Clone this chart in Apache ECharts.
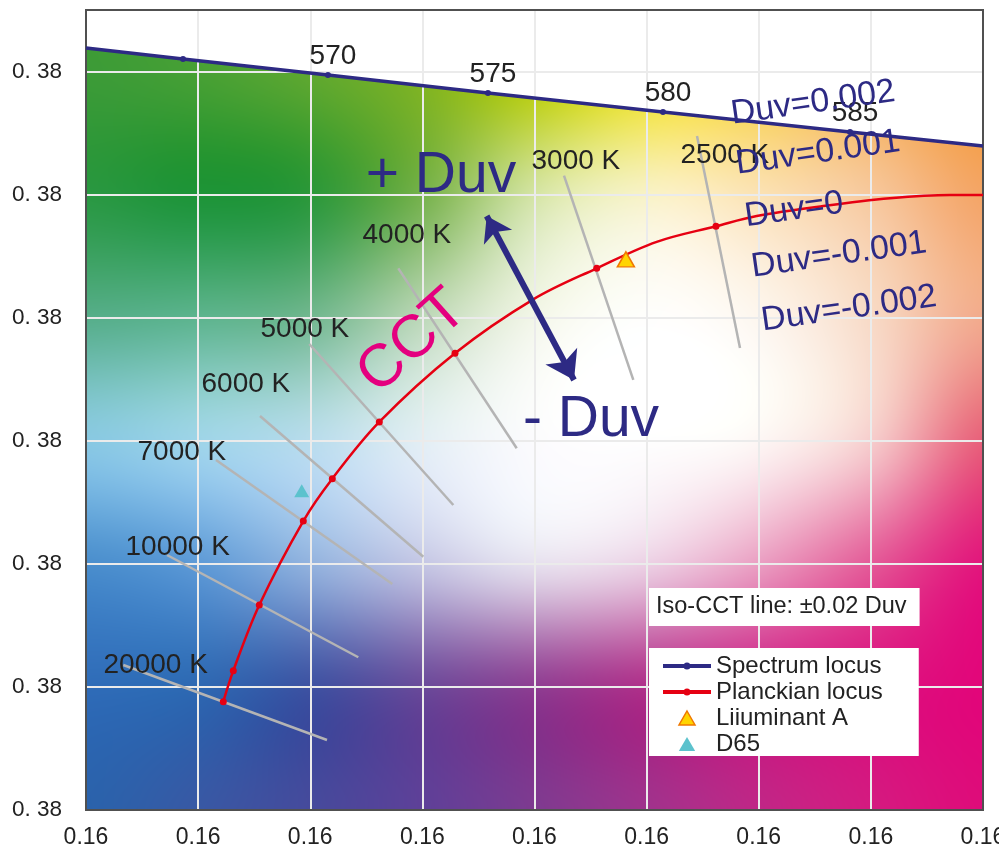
<!DOCTYPE html>
<html><head><meta charset="utf-8">
<script src="https://cdn.jsdelivr.net/npm/echarts@6/dist/echarts.min.js"></script>
<style>html,body{margin:0;padding:0;background:#fff}#main{width:999px;height:853px}</style>
</head><body><div id="main"></div>
<script>
const FONT = '"Liberation Sans", Arial, Helvetica, sans-serif';
const NAVY = '#2d2a84';
const RED = '#e60012';

// Tick labels
const xTickLabels = ['0.16','0.16','0.16','0.16','0.16','0.16','0.16','0.16','0.16'];
const yTickLabels = ['0. 38','0. 38','0. 38','0. 38','0. 38','0. 38','0. 38'];

// Spectrum locus (grid units)
const spectrumX = [0.000, 0.865, 2.158, 3.585, 5.146, 6.814, 8.000];
const spectrumY = [6.191, 6.102, 5.972, 5.826, 5.672, 5.509, 5.395];
const spectrumNames = ['', '', '570', '575', '580', '585', ''];
const spectrumMarked = [false, true, true, true, true, true, false];

// Planckian locus
const planckX = [1.2245, 1.3137, 1.5456, 1.9380, 2.1967, 2.6159, 3.2910, 3.9893, 4.5547, 5.0898, 5.6187, 5.9817, 6.5757, 7.1706, 7.7057, 8.0000];
const planckY = [0.880, 1.132, 1.666, 2.348, 2.692, 3.153, 3.711, 4.149, 4.401, 4.616, 4.743, 4.826, 4.907, 4.970, 4.997, 4.997];
const planckMarked = [true, true, true, true, true, true, true, false, true, false, true, false, false, false, false, false];

// Iso-CCT lines
const isoCCT = ['20000 K','10000 K','7000 K','6000 K','5000 K','4000 K','3000 K','2500 K'];
const isoStartX = [0.3327, 0.7224, 1.1594, 1.5518, 1.9916, 2.7853, 4.2631, 5.4493];
const isoStartY = [1.178, 2.072, 2.844, 3.201, 3.786, 4.401, 5.154, 5.476];
const isoEndX = [2.1494, 2.4285, 2.7318, 3.0083, 3.2758, 3.8412, 4.8812, 5.8328];
const isoEndY = [0.569, 1.241, 1.836, 2.058, 2.478, 2.939, 3.494, 3.754];
const isoLabelX = [0.1516, 0.3478, 0.4548, 1.0256, 1.5518, 2.4615, 3.9688, 5.2977];
const isoLabelY = [1.178, 2.137, 2.909, 3.461, 3.908, 4.672, 5.273, 5.322];

// Duv annotations
const duvNames = ['Duv=0.002','Duv=0.001','Duv=0','Duv=-0.001','Duv=-0.002'];
const duvX = [6.484, 6.528, 6.314, 6.716, 6.805];
const duvY = [5.744, 5.338, 4.875, 4.509, 4.071];

const bigTexts = ['+ Duv', '- Duv'];
const bigX = [3.166, 4.504];
const bigY = [5.151, 3.164];
const cctText = ['CCT'];
const cctX = [2.912];
const cctY = [3.802];

const arrowX = [3.5737, 4.3523];
const arrowY = [4.826, 3.494];

const illumA = [4.815, 4.474];
const d65 = [1.924, 2.594];

// background colour field (rows gy=0..7, cols gx=0..8)
const bgRows = [
 ['#2a62ab','#3858a4','#464a9c','#5e4098','#7e3a90','#a0328c','#c02686','#d41a80','#de0c7a'],
 ['#2f6cb8','#2e68b2','#3e52a2','#6a4a9a','#8e3e92','#b0308a','#cc2286','#da1480','#e2067a'],
 ['#4a8ecd','#5e9ad6','#92b2de','#c4c6e4','#e6e0ee','#ecd0e4','#ea9ec2','#e45a98','#e2167c'],
 ['#88c8e2','#9ed4e8','#b8dcec','#e2eef4','#fbfbfd','#fefefe','#fdf6f4','#f6cccc','#e8607a'],
 ['#56ae8a','#5db48e','#72b890','#bcd8b8','#f2f6e8','#fefefc','#fdf6ee','#f8dac6','#f2aa8c'],
 ['#2a9842','#1e9438','#2c983a','#76b24c','#d4e4a4','#f8f2c6','#fbe2b4','#f7c89c','#f4a566'],
 ['#3c9b37','#47a034','#5fa82f','#80b420','#b8cc00','#f0e020','#f8d040','#f6b050','#f29a30'],
 ['#3c9b37','#47a034','#5fa82f','#80b420','#b8cc00','#f0e020','#f8d040','#f6b050','#f29a30']
];

const chart = echarts.init(document.getElementById('main'), null, {renderer: 'canvas'});

const textSeries = (name, xs, ys, labels, labelOpt, z) => ({
  name, type: 'scatter', symbol: 'circle', symbolSize: 1, silent: true, z: z || 8,
  itemStyle: {color: 'rgba(0,0,0,0)', opacity: 1},
  label: Object.assign({show: true, formatter: '{b}', fontFamily: FONT, opacity: 1}, labelOpt),
  data: xs.map((x, i) => ({name: labels[i], value: [x, ys[i]]}))
});

const option = {
  animation: false,
  title: {
    text: 'Iso-CCT line: \u00b10.02 Duv', left: 649, top: 588,
    backgroundColor: '#fff', padding: [7, 13, 7, 7],
    textStyle: {fontSize: 23.5, fontWeight: 'normal', color: '#222', fontFamily: FONT}
  },
  legend: {
    orient: 'vertical', left: 649, top: 648,
    backgroundColor: '#fff', padding: [6, 36, 0, 14],
    itemWidth: 48, itemHeight: 14, itemGap: 2,
    itemStyle: {borderWidth: 0},
    textStyle: {fontSize: 24, color: '#222', fontFamily: FONT, lineHeight: 20},
    data: [
      {name: 'Spectrum locus', icon: 'path://M0,2 L48,2 L48,6 L0,6 Z M20.5,4 A3.5,3.5 0 1 1 27.5,4 A3.5,3.5 0 1 1 20.5,4 Z'},
      {name: 'Planckian locus', icon: 'path://M0,2 L48,2 L48,6 L0,6 Z M20.5,4 A3.5,3.5 0 1 1 27.5,4 A3.5,3.5 0 1 1 20.5,4 Z'},
      {name: 'Liiuminant A', icon: 'path://M8,0 L16,14 L0,14 Z', itemStyle: {borderWidth: 1.5, borderColor: '#f07800'}},
      {name: 'D65', icon: 'path://M7,0 L14,12 L0,12 Z'}
    ]
  },
  grid: {left: 86, top: 10, right: 16, bottom: 43, show: true, borderColor: '#505050', borderWidth: 2, backgroundColor: 'rgba(0,0,0,0)', z: 3, outerBoundsMode: 'none', containLabel: false},
  xAxis: {
    type: 'value', min: 0, max: 8, interval: 1,
    axisLine: {show: false}, axisTick: {show: false},
    axisLabel: {formatter: (v, i) => xTickLabels[i] || '', fontSize: 23, color: '#222', margin: 16, fontFamily: FONT},
    splitLine: {show: true, lineStyle: {color: '#ebebeb', width: 2}}
  },
  yAxis: {
    type: 'value', min: 0, max: 6.5, interval: 1,
    axisLine: {show: false}, axisTick: {show: false},
    axisLabel: {formatter: (v, i) => yTickLabels[i] || '', fontSize: 22.5, color: '#222', margin: 24, fontFamily: FONT, showMaxLabel: false},
    splitLine: {show: true, lineStyle: {color: '#ebebeb', width: 2}}
  },
  series: [
    {
      name: 'Iso-CCT', type: 'lines', coordinateSystem: 'cartesian2d', silent: true, z: 2,
      lineStyle: {color: '#b4b4b4', width: 2.5, opacity: 1, curveness: 0},
      data: isoCCT.map((n, i) => ({coords: [[isoStartX[i], isoStartY[i]], [isoEndX[i], isoEndY[i]]]}))
    },
    {
      name: 'Spectrum locus', type: 'line', z: 4, silent: true,
      lineStyle: {color: NAVY, width: 3.5}, itemStyle: {color: NAVY, opacity: 1},
      symbol: 'circle', symbolSize: 6, showSymbol: true, showAllSymbol: true,
      label: {show: false, position: 'top', distance: 2, offset: [5, 0], formatter: '{b}', fontSize: 28, color: '#222', fontFamily: FONT},
      data: spectrumX.map((x, i) => ({
        name: spectrumNames[i], value: [x, spectrumY[i]],
        symbol: spectrumMarked[i] ? 'circle' : 'none',
        label: {show: spectrumNames[i] !== ''}
      }))
    },
    {
      name: 'Planckian locus', type: 'line', z: 5, silent: true, smooth: 0.35,
      lineStyle: {color: RED, width: 2.5}, itemStyle: {color: RED, opacity: 1},
      symbol: 'circle', symbolSize: 7, showSymbol: true, showAllSymbol: true,
      data: planckX.map((x, i) => ({value: [x, planckY[i]], symbol: planckMarked[i] ? 'circle' : 'none'}))
    },
    {
      name: 'Liiuminant A', type: 'scatter', z: 6, silent: true,
      symbol: 'triangle', symbolSize: [17, 15],
      itemStyle: {color: '#ffd400', borderColor: '#f07800', borderWidth: 1.5, opacity: 1},
      data: [illumA]
    },
    {
      name: 'D65', type: 'scatter', z: 6, silent: true,
      symbol: 'triangle', symbolSize: [15, 13],
      itemStyle: {color: '#5cc2cd', opacity: 1},
      data: [d65]
    },
    {
      name: 'Duv arrow', type: 'lines', coordinateSystem: 'cartesian2d', silent: true, z: 6,
      symbol: ['arrow', 'arrow'], symbolSize: [24, 27],
      lineStyle: {color: NAVY, width: 6, opacity: 1, curveness: 0},
      data: [{coords: [[arrowX[0], arrowY[0]], [arrowX[1], arrowY[1]]]}]
    },
    textSeries('CCT labels', isoLabelX, isoLabelY, isoCCT, {position: 'right', distance: 0, fontSize: 28, color: '#222'}, 7),
    textSeries('Duv labels', duvX, duvY, duvNames, {position: 'inside', rotate: 8, fontSize: 34, color: NAVY}, 8),
    textSeries('Duv direction', bigX, bigY, bigTexts, {position: 'inside', fontSize: 57, color: NAVY}, 8),
    textSeries('CCT direction', cctX, cctY, cctText, {position: 'inside', rotate: 42, fontSize: 60, color: '#e4007f'}, 8)
  ]
};
chart.setOption(option);

// Build the colour field behind the plot
(function () {
  const p0 = chart.convertToPixel({gridIndex: 0}, [0, 6.5]);
  const p1 = chart.convertToPixel({gridIndex: 0}, [8, 0]);
  const w = Math.round(p1[0] - p0[0]), h = Math.round(p1[1] - p0[1]);
  const loc = spectrumX.map((x, i) => chart.convertToPixel({gridIndex: 0}, [x, spectrumY[i]]));
  const grid = bgRows.map(r => r.map(c => [parseInt(c.slice(1, 3), 16), parseInt(c.slice(3, 5), 16), parseInt(c.slice(5, 7), 16)]));
  const nr = grid.length, nc = grid[0].length;
  const G = (r, c, k) => grid[Math.max(0, Math.min(nr - 1, r))][Math.max(0, Math.min(nc - 1, c))][k];
  const cr = (a, b, c, d, t) => 0.5 * ((2 * b) + (-a + c) * t + (2 * a - 5 * b + 4 * c - d) * t * t + (-a + 3 * b - 3 * c + d) * t * t * t);
  const cv = document.createElement('canvas');
  cv.width = w; cv.height = h;
  const ctx = cv.getContext('2d');
  const img = ctx.createImageData(w, h);
  const d = img.data;
  for (let i = 0; i < w; i++) {
    const X = p0[0] + i + 0.5;
    let ly = loc[0][1];
    for (let s = 0; s < loc.length - 1; s++) {
      if (X >= loc[s][0] && X <= loc[s + 1][0]) {
        const t = (X - loc[s][0]) / (loc[s + 1][0] - loc[s][0]);
        ly = loc[s][1] + t * (loc[s + 1][1] - loc[s][1]);
      }
    }
    if (X > loc[loc.length - 1][0]) ly = loc[loc.length - 1][1];
    const gx = (i + 0.5) / w * 8;
    const c = Math.min(nc - 2, Math.floor(gx));
    const tx = gx - c;
    for (let j = 0; j < h; j++) {
      const o = (j * w + i) * 4;
      const Y = p0[1] + j + 0.5;
      if (Y < ly - 1) { d[o] = 255; d[o + 1] = 255; d[o + 2] = 255; d[o + 3] = 255; continue; }
      const gy = 6.5 * (1 - (j + 0.5) / h);
      const r = Math.min(nr - 2, Math.floor(gy));
      const ty = gy - r;
      for (let k = 0; k < 3; k++) {
        const rowv = [];
        for (let rr = -1; rr <= 2; rr++) {
          rowv.push(cr(G(r + rr, c - 1, k), G(r + rr, c, k), G(r + rr, c + 1, k), G(r + rr, c + 2, k), tx));
        }
        const v = cr(rowv[0], rowv[1], rowv[2], rowv[3], ty);
        d[o + k] = Math.max(0, Math.min(255, Math.round(v)));
      }
      d[o + 3] = 255;
    }
  }
  ctx.putImageData(img, 0, 0);
  chart.setOption({
    graphic: [{type: 'image', x: p0[0], y: p0[1], z: -10, silent: true, style: {image: cv, width: w, height: h}}]
  });
})();
</script>
</body></html>
